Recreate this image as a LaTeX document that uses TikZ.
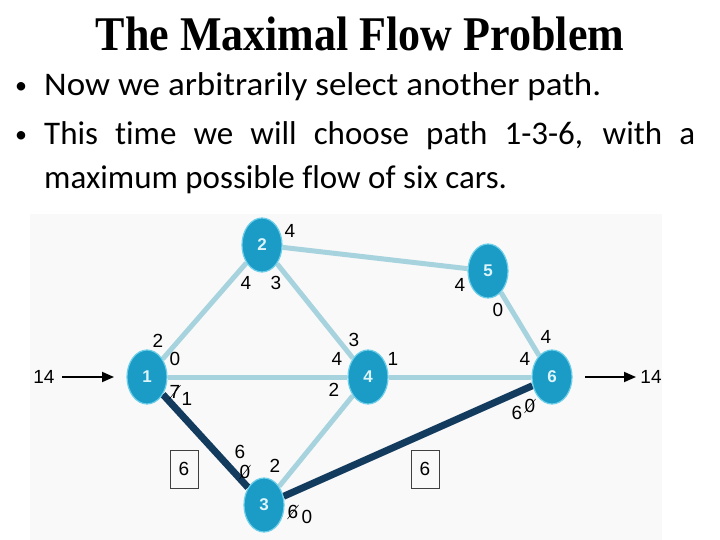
\documentclass[tikz,border=0pt]{standalone}
\usepackage{fontspec}
\usepackage{graphicx}
\setmainfont{Carlito}[Ligatures=NoCommon]
\newfontfamily\titlefont{Liberation Serif}
\newfontfamily\numfont{Liberation Sans}
\usetikzlibrary{shapes.geometric,shapes.misc,arrows.meta,backgrounds}
\definecolor{nodeblue}{HTML}{1A9CC6}
\definecolor{nodeedge}{HTML}{6CCDE8}
\definecolor{lightedge}{HTML}{A6D3DD}
\definecolor{darkedge}{HTML}{133B5E}
\definecolor{numtext}{HTML}{DDF4FA}
\definecolor{panel}{HTML}{F9F9F9}
\tikzset{
  vert/.style={ellipse, fill=nodeblue, draw=nodeedge, line width=1.2pt,
    minimum width=40pt, minimum height=54pt, inner sep=0pt,
    text=numtext, font=\numfont\bfseries\fontsize{17}{17}\selectfont},
  lite/.style={draw=lightedge, line width=5pt},
  dark/.style={draw=darkedge, line width=7pt},
  num/.style={inner sep=0pt, font=\numfont\fontsize{19}{19}\selectfont},
  struck/.style={num, strike out, draw=black, line width=0.5pt},
  flowbox/.style={draw=black!75, line width=1pt, minimum width=28pt, minimum height=38pt,
    inner sep=0pt, font=\numfont\fontsize{19}{19}\selectfont},
  bigarrow/.style={-{Triangle[length=12pt,width=10pt]}, line width=1.8pt, black},
  bullettext/.style={anchor=base west, inner sep=0pt, font=\fontsize{33}{33}\selectfont},
  bulletdot/.style={inner sep=0pt, font=\fontsize{24}{24}\selectfont}
}
\begin{document}
\begin{tikzpicture}[x=1pt,y=-1pt]
\useasboundingbox (0,0) rectangle (720,540);
\begin{pgfonlayer}{background}
\fill[panel] (30,214) rectangle (662,540);
\end{pgfonlayer}

% title and bullets
\node[font=\titlefont\bfseries\fontsize{44}{44}\selectfont, anchor=base, inner sep=0pt] (title) at (360,51) {\scalebox{1}[1.1]{The Maximal Flow Problem}};
\node[bulletdot] (d1) at (21,88) {•};
\node[bullettext] (t1) at (44,96) {\scalebox{1.06}[1]{Now we arbitrarily select another path.}};
\node[bulletdot] (d2) at (21,137) {•};
\node[bullettext] (t2) at (44,145) {\makebox[651pt][s]{This time we will choose path 1-3-6, with a}};
\node[bullettext] (t3) at (44,189) {maximum possible flow of six cars.};

% vertices
\node[vert] (n1) at (147,377) {1};
\node[vert] (n2) at (262,245) {2};
\node[vert] (n3) at (264,505) {3};
\node[vert] (n4) at (368,377) {4};
\node[vert] (n5) at (488,271) {5};
\node[vert] (n6) at (552,377) {6};

\begin{pgfonlayer}{background}
\draw[lite] (n1) -- (n2);
\draw[lite] (n1) -- (n4);
\draw[lite] (n2) -- (n4);
\draw[lite] (n2) -- (n5);
\draw[lite] (n4) -- (n6);
\draw[lite] (n5) -- (n6);
\draw[lite] (n3) -- (n4);
\draw[dark] (n1) -- (n3);
\draw[dark] (n3) -- (n6);
\end{pgfonlayer}

% source and sink arrows
\node[num] (in) at (44,377) {14};
\coordinate (instart) at (62,377);
\coordinate (inend) at (114,377);
\draw[bigarrow] (instart) -- (inend);
\node[num] (out) at (651,377) {14};
\coordinate (outstart) at (585,377);
\coordinate (outend) at (636,377);
\draw[bigarrow] (outstart) -- (outend);

% edge labels
\node[num] (l1) at (290,231) {4};
\node[num] (l2) at (246,283) {4};
\node[num] (l3) at (276,283) {3};
\node[num] (l4) at (158,341) {2};
\node[num] (l5) at (175,359) {0};
\node[num] (l6) at (354,340) {3};
\node[num] (l7) at (337,359) {4};
\node[num] (l8) at (393,359) {1};
\node[num] (l9) at (460,285) {4};
\node[num] (l10) at (498,310) {0};
\node[num] (l11) at (546,337) {4};
\node[num] (l12) at (525,359) {4};
\node[struck] (l13) at (175,392) {7};
\node[num] (l14) at (187,399) {1};
\node[num] (l15) at (334,390) {2};
\node[num] (l16) at (240,452) {6};
\node[struck] (l17) at (245,472) {0};
\node[num] (l18) at (275,466) {2};
\node[struck] (l19) at (293,512) {6};
\node[num] (l20) at (307,517) {0};
\node[num] (l21) at (517,413) {6};
\node[struck] (l22) at (530,406) {0};

% flow boxes
\node[flowbox] (f1) at (184,469) {6};
\node[flowbox] (f2) at (425,469) {6};
\end{tikzpicture}
\end{document}
